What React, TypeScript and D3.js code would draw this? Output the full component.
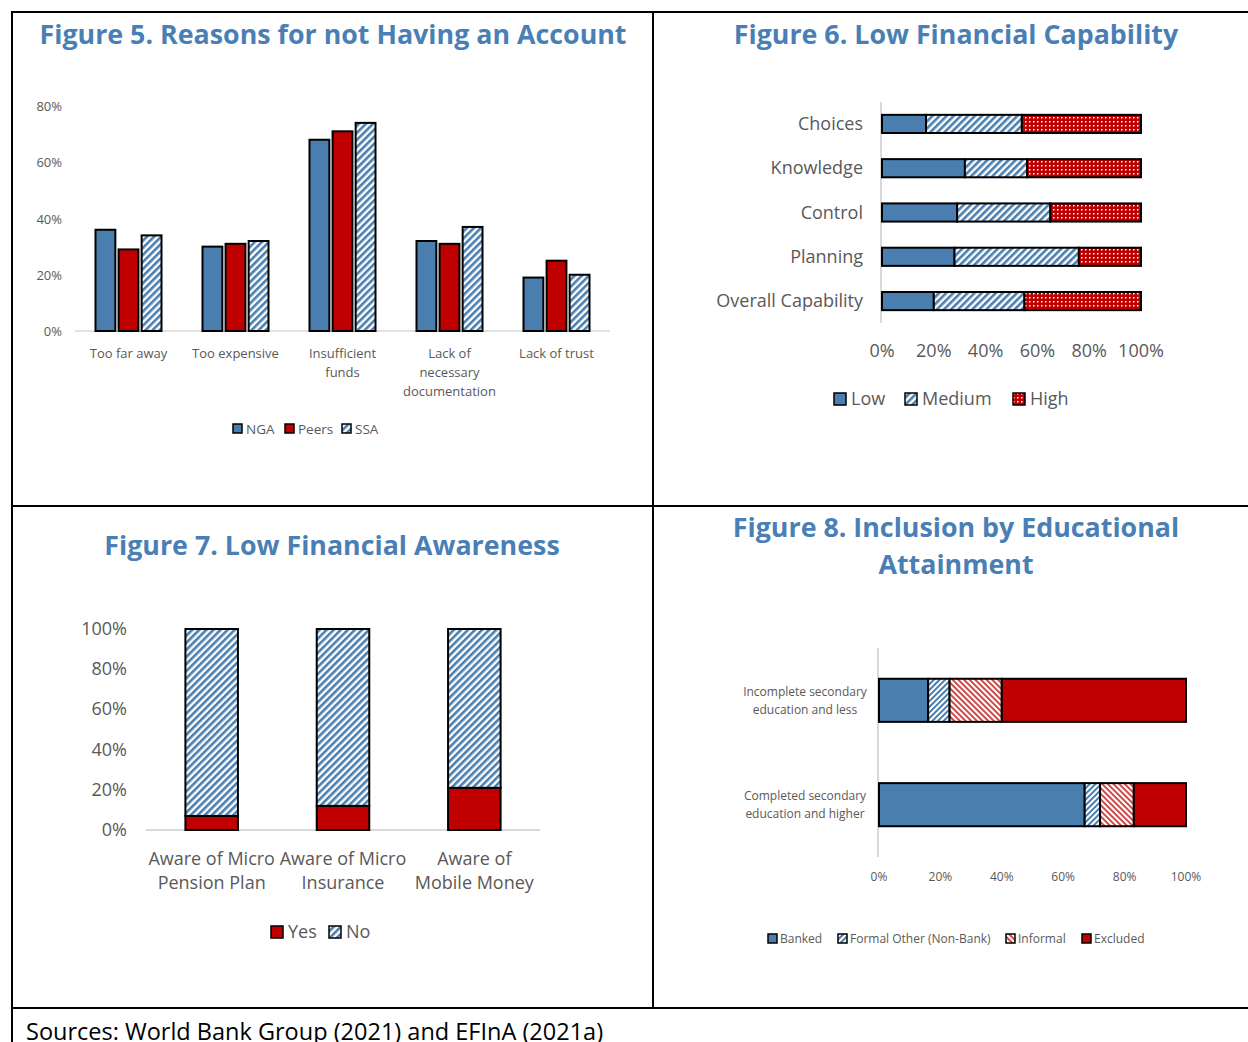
import React from "react";
import * as d3 from "d3";

// Figure 5
const reasons = [["Too far away"], ["Too expensive"], ["Insufficient", "funds"], ["Lack of", "necessary", "documentation"], ["Lack of trust"]];
const groups5 = ["NGA", "Peers", "SSA"];
const nga5 = [0.36, 0.3, 0.68, 0.32, 0.19];
const peers5 = [0.29, 0.31, 0.71, 0.31, 0.25];
const ssa5 = [0.34, 0.32, 0.74, 0.37, 0.2];
const ticks5 = [0, 0.2, 0.4, 0.6, 0.8];

// Figure 6
const capCats = ["Choices", "Knowledge", "Control", "Planning", "Overall Capability"];
const levels6 = ["Low", "Medium", "High"];
const low6 = [0.17, 0.32, 0.29, 0.28, 0.2];
const med6 = [0.37, 0.24, 0.36, 0.48, 0.35];
const high6 = [0.46, 0.44, 0.35, 0.24, 0.45];
const ticks6 = [0, 0.2, 0.4, 0.6, 0.8, 1];

// Figure 7
const awareCats = [["Aware of Micro", "Pension Plan"], ["Aware of Micro", "Insurance"], ["Aware of", "Mobile Money"]];
const answers7 = ["Yes", "No"];
const yes7 = [0.07, 0.12, 0.21];
const no7 = [0.93, 0.88, 0.79];
const ticks7 = [0, 0.2, 0.4, 0.6, 0.8, 1];

// Figure 8
const eduCats = [["Incomplete secondary", "education and less"], ["Completed secondary", "education and higher"]];
const status8 = ["Banked", "Formal Other (Non-Bank)", "Informal", "Excluded"];
const banked8 = [0.16, 0.67];
const formalOther8 = [0.07, 0.05];
const informal8 = [0.17, 0.11];
const excluded8 = [0.6, 0.17];
const ticks8 = [0, 0.2, 0.4, 0.6, 0.8, 1];

const BLUE = "#4a7eae";
const RED = "#c00000";
const TITLE = "#4a7fb5";
const GREY = "#595959";
const AXIS = "#d9d9d9";
const FONT = "'Open Sans', 'Noto Sans', sans-serif";
const pct = d3.format(".0%");

const fill5 = [BLUE, RED, "url(#blueStripe)"];
const fill6 = [BLUE, "url(#blueStripe)", "url(#redDots)"];
const fill7 = [RED, "url(#blueStripe)"];
const fill8 = [BLUE, "url(#blueStripeFine)", "url(#redStripe)", RED];

function Swatch({ x, y, s, fill }: { x: number; y: number; s: number; fill: string }) {
  return <rect x={x} y={y} width={s} height={s} fill={fill} stroke="#000" strokeWidth={1.5} />;
}

function Fig5() {
  const y = d3.scaleLinear().domain([0, 0.8]).range([331, 106]);
  const x = d3.scaleBand<number>().domain(d3.range(reasons.length)).range([75, 610]);
  const x1 = d3.scaleBand<string>().domain(groups5).range([0, 66]).paddingInner(0.14);
  const series = [nga5, peers5, ssa5];
  const legendX = [233, 285, 342];
  return (
    <g fontFamily={FONT}>
      <text x={333} y={44} textAnchor="middle" fontSize={26.8} fontWeight="bold" fill={TITLE}>
        Figure 5. Reasons for not Having an Account
      </text>
      {ticks5.map((t) => (
        <text key={t} x={62} y={y(t) + 5} textAnchor="end" fontSize={13} fill={GREY}>
          {pct(t)}
        </text>
      ))}
      <line x1={75} x2={610} y1={y(0)} y2={y(0)} stroke={AXIS} strokeWidth={1.5} />
      {reasons.map((lines, i) => {
        const cx = (x(i) as number) + x.bandwidth() / 2;
        return (
          <g key={i}>
            {groups5.map((g, j) => (
              <rect
                key={g}
                x={cx - 33 + (x1(g) as number)}
                y={y(series[j][i])}
                width={x1.bandwidth()}
                height={y(0) - y(series[j][i])}
                fill={fill5[j]}
                stroke="#000"
                strokeWidth={2}
              />
            ))}
            {lines.map((l, k) => (
              <text key={k} x={cx} y={358 + k * 19} textAnchor="middle" fontSize={13} fill={GREY}>
                {l}
              </text>
            ))}
          </g>
        );
      })}
      {groups5.map((g, j) => (
        <g key={g}>
          <Swatch x={legendX[j]} y={424} s={9} fill={fill5[j]} />
          <text x={legendX[j] + 13} y={434} fontSize={13.5} fill={GREY}>
            {g}
          </text>
        </g>
      ))}
    </g>
  );
}

function Fig6() {
  const x = d3.scaleLinear().domain([0, 1]).range([882, 1141]);
  const y = d3.scaleBand<string>().domain(capCats).range([102, 323]).paddingInner(0.59).paddingOuter(0.29);
  const stack = [low6, med6, high6];
  const legendX = [834, 905, 1013];
  return (
    <g fontFamily={FONT}>
      <text x={956} y={44} textAnchor="middle" fontSize={26.8} fontWeight="bold" fill={TITLE}>
        Figure 6. Low Financial Capability
      </text>
      <line x1={881} x2={881} y1={102} y2={323} stroke={AXIS} strokeWidth={2} />
      {capCats.map((c, i) => {
        let acc = 0;
        const yy = y(c) as number;
        return (
          <g key={c}>
            <text x={863} y={yy + y.bandwidth() / 2 + 6} textAnchor="end" fontSize={18} fill={GREY}>
              {c}
            </text>
            {stack.map((s, j) => {
              const x0 = x(acc);
              acc += s[i];
              return (
                <rect key={j} x={x0} y={yy} width={x(acc) - x0} height={y.bandwidth()} fill={fill6[j]} stroke="#000" strokeWidth={2} />
              );
            })}
          </g>
        );
      })}
      {ticks6.map((t) => (
        <text key={t} x={x(t)} y={357} textAnchor="middle" fontSize={18} fill={GREY}>
          {pct(t)}
        </text>
      ))}
      {levels6.map((l, j) => (
        <g key={l}>
          <Swatch x={legendX[j]} y={393} s={12} fill={fill6[j]} />
          <text x={legendX[j] + 17} y={405} fontSize={18} fill={GREY}>
            {l}
          </text>
        </g>
      ))}
    </g>
  );
}

function Fig7() {
  const y = d3.scaleLinear().domain([0, 1]).range([830, 629]);
  const x = d3.scaleBand<number>().domain(d3.range(awareCats.length)).range([146, 540]).paddingInner(0.6).paddingOuter(0.3);
  const stack = [yes7, no7];
  const legendX = [271, 329];
  return (
    <g fontFamily={FONT}>
      <text x={332} y={555} textAnchor="middle" fontSize={26.8} fontWeight="bold" fill={TITLE}>
        Figure 7. Low Financial Awareness
      </text>
      {ticks7.map((t) => (
        <text key={t} x={127} y={y(t) + 6} textAnchor="end" fontSize={18} fill={GREY}>
          {pct(t)}
        </text>
      ))}
      <line x1={146} x2={540} y1={y(0)} y2={y(0)} stroke={AXIS} strokeWidth={2} />
      {awareCats.map((lines, i) => {
        let acc = 0;
        const xx = x(i) as number;
        return (
          <g key={i}>
            {stack.map((s, j) => {
              const y0 = y(acc);
              acc += s[i];
              return (
                <rect key={j} x={xx} y={y(acc)} width={x.bandwidth()} height={y0 - y(acc)} fill={fill7[j]} stroke="#000" strokeWidth={2} />
              );
            })}
            {lines.map((l, k) => (
              <text key={k} x={xx + x.bandwidth() / 2} y={865 + k * 24} textAnchor="middle" fontSize={18} fill={GREY}>
                {l}
              </text>
            ))}
          </g>
        );
      })}
      {answers7.map((a, j) => (
        <g key={a}>
          <Swatch x={legendX[j]} y={926} s={12} fill={fill7[j]} />
          <text x={legendX[j] + 17} y={938} fontSize={18} fill={GREY}>
            {a}
          </text>
        </g>
      ))}
    </g>
  );
}

function Fig8() {
  const x = d3.scaleLinear().domain([0, 1]).range([879, 1186]);
  const y = d3.scaleBand<number>().domain(d3.range(eduCats.length)).range([648.5, 856.5]).paddingInner(0.587).paddingOuter(0.29);
  const stack = [banked8, formalOther8, informal8, excluded8];
  const legendX = [768, 838, 1006, 1082];
  return (
    <g fontFamily={FONT}>
      <text x={956} y={537} textAnchor="middle" fontSize={26.8} fontWeight="bold" fill={TITLE}>
        Figure 8. Inclusion by Educational
      </text>
      <text x={956} y={574} textAnchor="middle" fontSize={26.8} fontWeight="bold" fill={TITLE}>
        Attainment
      </text>
      <line x1={878} x2={878} y1={648} y2={857} stroke={AXIS} strokeWidth={2} />
      {eduCats.map((lines, i) => {
        let acc = 0;
        const yy = y(i) as number;
        const cy = yy + y.bandwidth() / 2;
        return (
          <g key={i}>
            {lines.map((l, k) => (
              <text key={k} x={805} y={cy - 4.5 + k * 18} textAnchor="middle" fontSize={12} fill={GREY}>
                {l}
              </text>
            ))}
            {stack.map((s, j) => {
              const x0 = x(acc);
              acc += s[i];
              return (
                <rect key={j} x={x0} y={yy} width={x(acc) - x0} height={y.bandwidth()} fill={fill8[j]} stroke="#000" strokeWidth={2} />
              );
            })}
          </g>
        );
      })}
      {ticks8.map((t) => (
        <text key={t} x={x(t)} y={881} textAnchor="middle" fontSize={12} fill={GREY}>
          {pct(t)}
        </text>
      ))}
      {status8.map((s, j) => (
        <g key={s}>
          <Swatch x={legendX[j]} y={934} s={9} fill={fill8[j]} />
          <text x={legendX[j] + 12} y={943} fontSize={12} fill={GREY}>
            {s}
          </text>
        </g>
      ))}
    </g>
  );
}

export default function App() {
  return (
    <div style={{ position: "absolute", left: 0, top: 0 }}>
      <svg width={1248} height={1042} style={{ display: "block", background: "#fff" }}>
        <defs>
          <pattern id="blueStripe" width={5} height={5} patternUnits="userSpaceOnUse" patternTransform="rotate(45)">
            <rect width={5} height={5} fill="#fff" />
            <rect width={2.6} height={5} fill={BLUE} />
          </pattern>
          <pattern id="blueStripeFine" width={4} height={4} patternUnits="userSpaceOnUse" patternTransform="rotate(45)">
            <rect width={4} height={4} fill="#fff" />
            <rect width={2} height={4} fill={BLUE} />
          </pattern>
          <pattern id="redStripe" width={4} height={4} patternUnits="userSpaceOnUse" patternTransform="rotate(-45)">
            <rect width={4} height={4} fill="#fff" />
            <rect width={2} height={4} fill="#d04a48" />
          </pattern>
          <pattern id="redDots" width={4} height={4} patternUnits="userSpaceOnUse">
            <rect width={4} height={4} fill={RED} />
            <rect x={1} y={1} width={1.5} height={1.5} fill="#fff" />
          </pattern>
        </defs>
        {/* panel borders */}
        <g stroke="#000" strokeWidth={2}>
          <line x1={12} x2={1248} y1={12} y2={12} />
          <line x1={12} x2={1248} y1={506} y2={506} />
          <line x1={12} x2={1248} y1={1008} y2={1008} />
          <line x1={12} x2={12} y1={11} y2={1042} />
          <line x1={653} x2={653} y1={11} y2={1008} />
        </g>
        <Fig5 />
        <Fig6 />
        <Fig7 />
        <Fig8 />
        <text x={26} y={1040} fontFamily={FONT} fontSize={23.5} fill="#000">
          Sources: World Bank Group (2021) and EFInA (2021a)
        </text>
      </svg>
    </div>
  );
}
